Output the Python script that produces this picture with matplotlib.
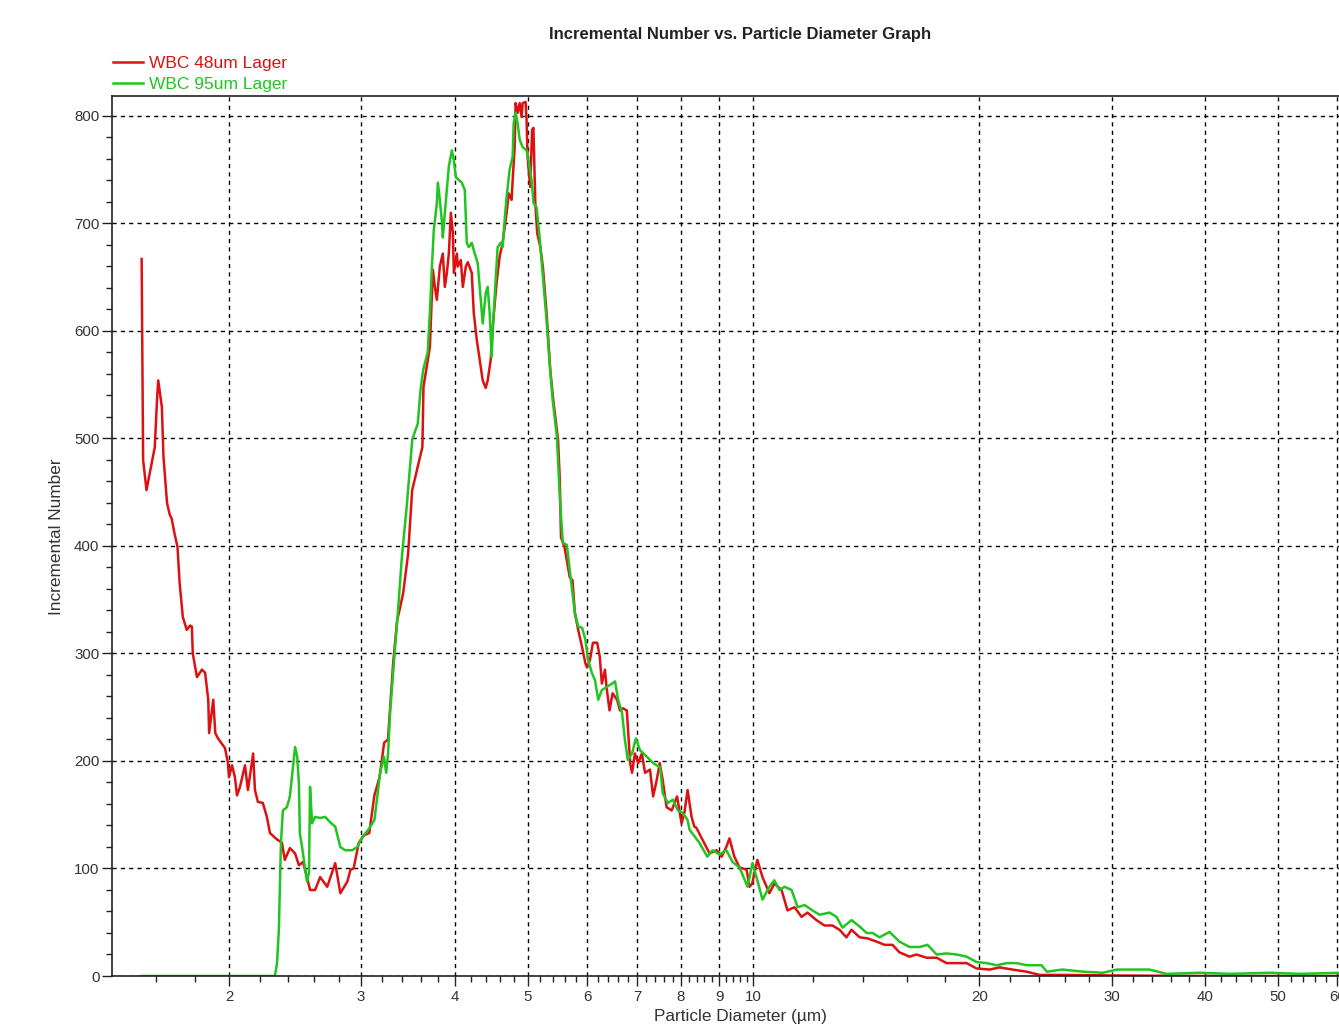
import matplotlib
matplotlib.use("Agg")
import matplotlib.pyplot as plt
import numpy as np
from matplotlib.ticker import FixedLocator, FixedFormatter

plt.rcParams["font.family"] = ["Liberation Sans", "DejaVu Sans"]

# ---- data (diameter in um, incremental number) ----
red_x = [1.530, 1.534, 1.537, 1.553, 1.593, 1.605, 1.610, 1.628, 1.636, 1.654,
         1.668, 1.677, 1.692, 1.708, 1.719, 1.736, 1.757, 1.775, 1.785, 1.790,
         1.813, 1.841, 1.859, 1.877, 1.882, 1.906, 1.918, 1.934, 1.976, 1.994,
         2.000, 2.019, 2.037, 2.050, 2.069, 2.101, 2.120, 2.154, 2.166, 2.186,
         2.219, 2.247, 2.268, 2.318, 2.353, 2.374, 2.411, 2.450, 2.479, 2.510,
         2.541, 2.565, 2.605, 2.646, 2.704, 2.771, 2.815, 2.877, 2.904, 2.932,
         2.979, 3.028, 3.076, 3.125, 3.175, 3.220, 3.258, 3.283, 3.310, 3.351,
         3.382, 3.413, 3.466, 3.509, 3.543, 3.578, 3.621, 3.633, 3.705, 3.739,
         3.762, 3.785, 3.820, 3.855, 3.879, 3.903, 3.927, 3.951, 3.976, 3.988,
         4.025, 4.037, 4.074, 4.099, 4.137, 4.162, 4.213, 4.239, 4.278, 4.317,
         4.357, 4.397, 4.424, 4.465, 4.492, 4.547, 4.589, 4.631, 4.689, 4.718,
         4.761, 4.776, 4.806, 4.820, 4.850, 4.880, 4.910, 4.925, 4.970, 4.985,
         5.000, 5.040, 5.070, 5.090, 5.120, 5.150, 5.200, 5.240, 5.300, 5.360,
         5.410, 5.490, 5.520, 5.540, 5.600, 5.690, 5.740, 5.780, 5.840, 5.910,
         5.970, 6.000, 6.055, 6.110, 6.190, 6.240, 6.280, 6.340, 6.370, 6.430,
         6.490, 6.580, 6.640, 6.700, 6.780, 6.850, 6.890, 6.950, 7.020, 7.100,
         7.170, 7.280, 7.350, 7.430, 7.500, 7.570, 7.660, 7.780, 7.910, 8.020,
         8.090, 8.170, 8.270, 8.340, 8.390, 8.550, 8.740, 8.930, 9.070, 9.200,
         9.290, 9.430, 9.580, 9.790, 9.880, 9.960, 10.12, 10.28, 10.50, 10.66,
         10.90, 11.10, 11.34, 11.59, 11.80, 12.13, 12.43, 12.74, 13.02, 13.30,
         13.51, 13.85, 14.19, 14.59, 14.95, 15.32, 15.65, 16.14, 16.49, 17.01,
         17.54, 18.08, 18.65, 19.23, 19.83, 20.64, 21.28, 22.14, 23.12, 24.06,
         26.0, 30.0, 40.0, 66.0]
red_y = [667, 561, 480, 452, 492, 540, 554, 529, 483, 440,
         429, 426, 412, 399, 366, 334, 322, 326, 325, 300,
         278, 285, 282, 257, 226, 257, 226, 221, 212, 198,
         185, 196, 185, 168, 176, 196, 173, 207, 173, 162,
         161, 148, 133, 127, 124, 108, 119, 114, 103, 106,
         92, 80, 80, 92, 83, 105, 77, 88, 99, 100,
         124, 131, 133, 168, 185, 217, 220, 254, 291, 331,
         343, 356, 393, 452, 464, 477, 492, 548, 585, 657,
         641, 629, 660, 672, 641, 654, 672, 710, 691, 654,
         672, 660, 666, 641, 660, 664, 654, 617, 592, 573,
         554, 547, 554, 573, 604, 645, 669, 682, 710, 728,
         722, 740, 771, 812, 803, 812, 799, 812, 813, 796,
         762, 734, 787, 789, 719, 691, 678, 660, 617, 564,
         536, 499, 461, 408, 399, 371, 368, 338, 322, 306,
         291, 287, 294, 310, 310, 297, 272, 285, 269, 247,
         263, 257, 247, 249, 247, 198, 189, 207, 198, 207,
         189, 192, 167, 182, 198, 182, 157, 154, 167, 142,
         152, 173, 148, 139, 138, 127, 114, 117, 111, 120,
         128, 111, 101, 99, 83, 86, 108, 92, 77, 86,
         80, 61, 64, 55, 59, 52, 47, 47, 43, 36,
         43, 36, 35, 32, 29, 29, 22, 18, 20, 17,
         17, 12, 12, 12, 7, 6, 8, 6, 4, 1,
         1, 0.5, 0, 0]

green_x = [1.530, 2.303, 2.318, 2.331, 2.338, 2.346, 2.360, 2.389, 2.411, 2.434,
           2.450, 2.466, 2.479, 2.486, 2.503, 2.526, 2.541, 2.557, 2.565, 2.581,
           2.605, 2.646, 2.687, 2.728, 2.771, 2.815, 2.856, 2.919, 2.966, 3.009,
           3.066, 3.125, 3.153, 3.180, 3.218, 3.240, 3.259, 3.279, 3.330, 3.360,
           3.400, 3.450, 3.510, 3.570, 3.600, 3.630, 3.680, 3.705, 3.728, 3.750,
           3.785, 3.797, 3.820, 3.843, 3.855, 3.879, 3.903, 3.927, 3.963, 3.988,
           4.012, 4.087, 4.124, 4.149, 4.175, 4.213, 4.252, 4.291, 4.344, 4.357,
           4.397, 4.424, 4.451, 4.478, 4.492, 4.533, 4.561, 4.603, 4.631, 4.660,
           4.689, 4.732, 4.776, 4.791, 4.820, 4.850, 4.880, 4.925, 4.985, 5.015,
           5.062, 5.093, 5.140, 5.188, 5.236, 5.300, 5.350, 5.400, 5.470, 5.520,
           5.570, 5.640, 5.690, 5.780, 5.840, 5.910, 5.970, 6.020, 6.090, 6.150,
           6.210, 6.280, 6.380, 6.480, 6.540, 6.600, 6.680, 6.740, 6.800, 6.890,
           6.970, 7.060, 7.210, 7.350, 7.510, 7.570, 7.690, 7.810, 7.930, 8.040,
           8.170, 8.220, 8.470, 8.680, 8.820, 9.010, 9.200, 9.380, 9.580, 9.820,
           9.970, 10.12, 10.28, 10.50, 10.66, 10.83, 11.00, 11.24, 11.45, 11.70,
           11.98, 12.25, 12.63, 12.90, 13.14, 13.51, 13.85, 14.15, 14.41, 14.72,
           15.18, 15.65, 16.14, 16.65, 17.06, 17.54, 18.08, 18.65, 19.23, 19.83,
           20.45, 21.09, 21.75, 22.43, 23.12, 23.85, 24.20, 24.60, 25.80, 27.50,
           29.20, 30.50, 32.00, 33.70, 35.50, 39.30, 43.10, 48.80, 53.50, 60.30,
           66.0]
green_y = [0, 0, 12, 43, 80, 124, 154, 157, 167, 194,
           213, 204, 179, 133, 120, 101, 88, 96, 176, 142,
           148, 147, 148, 143, 139, 120, 117, 117, 120, 129,
           136, 145, 167, 189, 204, 189, 207, 245, 306, 340,
           390, 436, 499, 514, 545, 564, 580, 617, 660, 694,
           719, 738, 722, 703, 687, 710, 731, 753, 768, 759,
           743, 738, 731, 682, 678, 682, 672, 663, 617, 607,
           635, 641, 617, 576, 598, 647, 678, 682, 678, 703,
           725, 750, 762, 793, 803, 793, 778, 771, 768, 759,
           740, 719, 715, 687, 654, 610, 570, 536, 502, 446,
           403, 401, 378, 338, 325, 324, 313, 294, 282, 275,
           257, 266, 269, 272, 274, 257, 245, 220, 201, 207,
           221, 210, 204, 198, 194, 170, 161, 164, 154, 152,
           145, 136, 124, 111, 117, 113, 117, 106, 101, 83,
           105, 89, 71, 83, 89, 80, 83, 80, 64, 66,
           61, 57, 59, 55, 45, 52, 46, 40, 40, 36,
           41, 32, 27, 27, 29, 20, 21, 20, 18, 13,
           12, 10, 12, 12, 10, 10, 10, 4, 6, 4,
           3, 6, 6, 6, 2, 3, 2, 3, 2, 3,
           2]

labels = ["WBC 48um Lager", "WBC 95um Lager"]
colors = ["#dd1111", "#22c422"]

x_major = [2, 3, 4, 5, 6, 7, 8, 9, 10, 20, 30, 40, 50, 60]
x_major_labels = [str(v) for v in x_major]

# ---- figure ----
W, H = 1339, 1027
fig = plt.figure(figsize=(W / 100, H / 100), dpi=100)
ax = fig.add_axes([112 / W, 51 / H, 1256 / W, 880 / H])

ax.plot(red_x, red_y, color=colors[0], lw=1.8, label=labels[0])
ax.plot(green_x, green_y, color=colors[1], lw=1.8, label=labels[1])

ax.set_xscale("log")
ax.set_xlim(1.397, 65.9)
ax.set_ylim(0, 818.6)

minor = list(np.arange(1.6, 2.0, 0.2))
for d in range(2, 10):
    minor += [d + k * 0.2 for k in range(1, 5)]
for d in range(10, 70, 10):
    minor += [d + k for k in (2, 4, 6, 8)]
ax.xaxis.set_major_locator(FixedLocator(x_major))
ax.xaxis.set_major_formatter(FixedFormatter(x_major_labels))
ax.xaxis.set_minor_locator(FixedLocator(minor))
ax.xaxis.set_minor_formatter(FixedFormatter([""] * len(minor)))

ax.yaxis.set_major_locator(FixedLocator(range(0, 801, 100)))
ax.yaxis.set_minor_locator(FixedLocator(range(0, 820, 20)))

ax.tick_params(which="major", direction="out", length=7, width=1,
               labelsize=10.8, labelcolor="#333333", color="#222222")
ax.tick_params(which="minor", direction="out", length=4, width=1, color="#222222")
ax.tick_params(axis="y", pad=2)
ax.tick_params(axis="x", pad=3)

ax.grid(True, which="major", color="black", linestyle=(0, (3, 3)), linewidth=1)
ax.set_axisbelow(True)
for side in ("top", "left", "bottom"):
    ax.spines[side].set_color("#222222")
    ax.spines[side].set_linewidth(1.2)
ax.spines["right"].set_visible(False)

fig.text(740 / W, 1 - 34 / H, "Incremental Number vs. Particle Diameter Graph",
         ha="center", va="center", fontsize=12, fontweight="bold", color="#222222")
fig.text(740 / W, 1 - 1017 / H, "Particle Diameter (\u00b5m)",
         ha="center", va="center", fontsize=12.4, color="#333333")
fig.text(57 / W, 1 - 537 / H, "Incremental Number", rotation=90,
         ha="center", va="center", fontsize=12.4, color="#333333")

fig.legend(loc="upper left", bbox_to_anchor=(113 / W, 1 - 56 / H),
           frameon=False, fontsize=12.5, labelcolor="linecolor",
           handlelength=1.7, handletextpad=0.4, labelspacing=0.32,
           borderpad=0, borderaxespad=0)

fig.savefig("out.png", dpi=100)
